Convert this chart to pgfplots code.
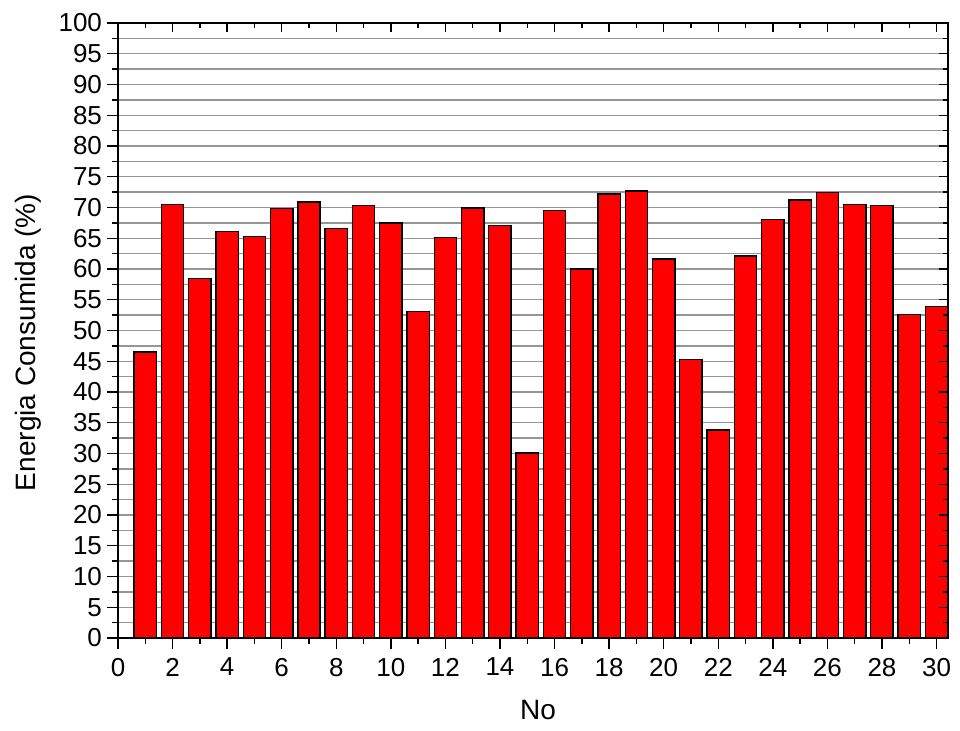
\documentclass[border=0pt]{standalone}
\usepackage{fontspec}
\setmainfont{Liberation Sans}
\usepackage{pgfplots}
\pgfplotsset{compat=1.18}
\definecolor{BarRed}{RGB}{255,0,0}
\definecolor{GridGray}{RGB}{150,150,150}

\pgfplotstableread{
n   e
1   46.5
2   70.5
3   58.5
4   66.1
5   65.3
6   69.8
7   70.9
8   66.6
9   70.3
10  67.5
11  53.1
12  65.1
13  69.9
14  67.1
15  30.1
16  69.5
17  60.0
18  72.2
19  72.7
20  61.6
21  45.3
22  33.8
23  62.1
24  68.0
25  71.2
26  72.4
27  70.5
28  70.3
29  52.6
30  53.9
}\energytable

\begin{document}
\begin{tikzpicture}
    % 1px of the reference = 0.5pt
    \useasboundingbox (-59pt,-46.5pt) rectangle (421pt,319pt);

    \begin{axis}[
        anchor=south west,
        at={(0,0)},
        scale only axis,
        width=415pt,
        height=307.5pt,
        xmin=0, xmax=30.42,
        ymin=0, ymax=100,
        xtick={0,2,...,30},
        ytick={0,5,...,100},
        minor x tick num=1,
        minor y tick num=1,
        axis x line*=bottom,
        axis y line*=left,
        tick align=outside,
        major tick length=5.5pt,
        minor tick length=3pt,
        every tick/.style={black, line width=0.7pt},
        axis line style={black, line width=0.8pt},
        ymajorgrids=true,
        yminorgrids=true,
        major grid style={GridGray, line width=0.7pt},
        minor grid style={GridGray, line width=0.7pt},
        /pgf/number format/assume math mode=true,
        ticklabel style={font=\fontsize{13}{15}\selectfont},
        yticklabel style={xshift=1pt},
        xticklabel style={yshift=-1pt},
        xlabel={No},
        ylabel={Energia Consumida (\%)},
        label style={font=\fontsize{14}{17}\selectfont},
        xlabel style={yshift=-5pt, xshift=2.5pt},
        ylabel style={yshift=2pt, xshift=-6pt},
    ]
    \addplot[
        ybar,
        bar width=0.82,
        bar shift=0pt,
        fill=BarRed,
        draw=black,
        line width=0.7pt
    ] table[x=n, y=e] {\energytable};
    \end{axis}

    % top and right frame with inward ticks
    \begin{axis}[
        anchor=south west,
        at={(0,0)},
        scale only axis,
        width=415pt,
        height=307.5pt,
        xmin=0, xmax=30.42,
        ymin=0, ymax=100,
        xtick={0,2,...,30},
        ytick={0,5,...,100},
        minor x tick num=1,
        minor y tick num=1,
        xtick pos=right,
        ytick pos=right,
        tick align=inside,
        major tick length=4.5pt,
        minor tick length=2.5pt,
        every tick/.style={black, line width=0.7pt},
        axis line style={black, line width=0.8pt},
        xticklabels={},
        yticklabels={},
    ]
    \end{axis}
\end{tikzpicture}
\end{document}
